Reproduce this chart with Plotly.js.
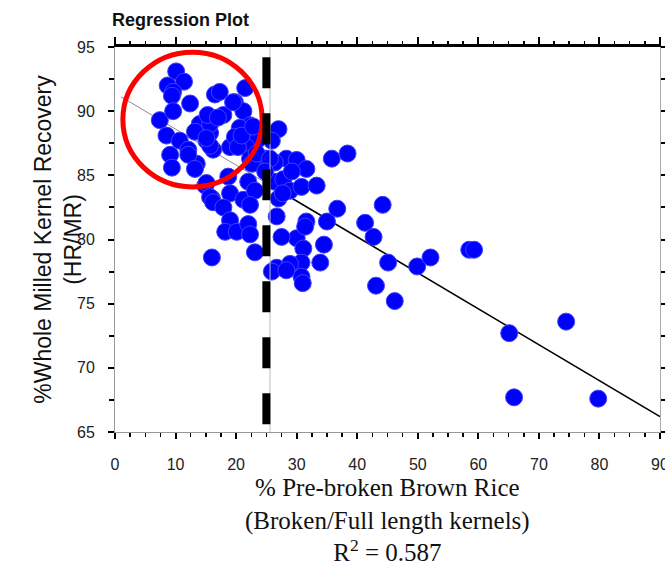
<!DOCTYPE html>
<html><head><meta charset="utf-8">
<script src="https://cdn.plot.ly/plotly-3.0.1.min.js"></script>
<style>html,body{margin:0;padding:0;background:#fff}</style>
</head><body><div id="chart" style="width:665px;height:564px"></div>
<script>
// % Pre-broken brown rice (x) and % whole milled kernel recovery (y)
const xVals = [10.1,11.4,8.7,9.6,9.4,7.4,8.5,9.1,9.4,10.7,12.1,13.5,12.4,9.6,14.0,15.7,16.5,17.3,19.8,21.5,
  21.2,22.3,20.6,17.9,15.7,15.1,16.2,19.0,19.8,23.4,25.0,27.0,28.3,21.7,12.1,13.2,14.9,16.0,13.2,15.7,
  20.3,15.1,18.7,22.0,19.0,15.7,21.2,26.4,26.4,27.0,20.9,15.1,22.3,22.6,23.4,30.0,31.6,35.8,38.4,16.2,
  23.1,22.3,17.9,19.0,18.2,20.1,22.0,23.1,16.0,26.7,27.8,28.9,30.8,33.3,31.6,35.0,36.7,41.3,42.7,30.0,
  31.1,34.5,33.9,30.8,26.7,28.9,30.8,31.0,44.2,31.4,22.3,27.5,25.9,28.3,27.7,45.1,49.9,52.1,58.5,59.3,
  43.1,46.2,65.1,74.5,65.9,79.8,25.9,25.6,24.8,29.2,15.3,17.0,22.8,19.5];
const yVals = [93.1,92.3,92.0,91.5,91.2,89.3,88.1,86.6,85.6,87.7,87.0,85.9,90.6,90.0,89.0,88.3,91.3,91.5,90.7,91.8,
  90.0,88.9,88.7,89.7,89.0,87.7,87.0,87.2,88.0,87.7,86.3,88.6,86.3,87.2,86.6,85.5,84.2,83.2,88.4,87.3,
  87.2,84.4,84.9,84.5,83.6,83.3,83.1,86.0,84.5,83.2,88.1,87.9,86.3,85.9,86.7,86.2,85.5,86.3,86.7,82.9,
  83.8,82.7,82.5,81.5,80.6,80.6,81.2,79.0,78.6,81.8,84.7,83.8,84.1,84.2,81.4,81.4,82.4,81.3,80.2,80.1,
  79.3,79.6,78.2,78.2,77.8,78.1,77.1,76.6,82.7,81.0,80.4,80.2,77.5,77.6,83.6,78.2,77.9,78.6,79.2,79.2,
  76.4,75.2,72.7,73.6,67.7,67.6,87.7,86.3,85.3,85.3,89.7,89.5,88.8,90.7];

// fitted regression line (R^2 = 0.587)
const fitIntercept = 91.4, fitSlope = -0.28;
const fitXLight = [1, 27];
const fitXDark = [27, 90];
const cutoffX = 25;
const xTickVals = [0,10,20,30,40,50,60,70,80,90];
const yTickVals = [65,70,75,80,85,90,95];

const fy = xs => xs.map(v => fitIntercept + fitSlope * v);

const traces = [
  {x: fitXLight, y: fy(fitXLight), mode: 'lines', line: {color: '#8a8a8a', width: 1}, hoverinfo: 'skip', showlegend: false},
  {x: fitXDark, y: fy(fitXDark), mode: 'lines', line: {color: '#000', width: 1.6}, hoverinfo: 'skip', showlegend: false},
  {x: xVals, y: yVals, mode: 'markers', type: 'scatter',
   marker: {size: 17, color: '#0000ff', line: {color: '#4040ff', width: 1}}, showlegend: false},
  {x: [xTickVals[0]], y: [yTickVals[0]], xaxis: 'x2', yaxis: 'y2', mode: 'markers',
   marker: {opacity: 0}, hoverinfo: 'skip', showlegend: false}
];

const tickFont = {family: 'Liberation Sans, Arial, sans-serif', size: 16, color: '#222'};

const layout = {
  width: 665, height: 564,
  margin: {l: 115, r: 5, t: 47, b: 132},
  paper_bgcolor: '#fff', plot_bgcolor: '#fff',
  showlegend: false,
  xaxis: {range: [0, 90], tickvals: xTickVals, showline: true, linecolor: '#9a9a9a', linewidth: 1,
    ticks: 'outside', ticklen: 6, tickwidth: 2, tickcolor: '#000',
    minor: {dtick: 2.5, tick0: 0, ticks: 'outside', ticklen: 4, tickwidth: 1.5, tickcolor: '#000'},
    showgrid: false, zeroline: false, tickfont: tickFont, ticklabelstandoff: 12, ticklabeloverflow: 'allow'},
  xaxis2: {range: [0, 90], overlaying: 'x', side: 'top', showline: true, linecolor: '#000', linewidth: 3,
    ticks: 'outside', ticklen: 7, tickwidth: 2, tickcolor: '#000', tickvals: xTickVals,
    minor: {dtick: 2.5, tick0: 0, ticks: 'outside', ticklen: 3, tickwidth: 1.5, tickcolor: '#000'},
    showticklabels: false, showgrid: false, zeroline: false},
  yaxis: {range: [65, 95], tickvals: yTickVals, showline: true, linecolor: '#9a9a9a', linewidth: 1,
    ticks: 'outside', ticklen: 6, tickwidth: 2, tickcolor: '#000',
    minor: {dtick: 2.5, tick0: 65, ticks: 'outside', ticklen: 5, tickwidth: 2, tickcolor: '#000'},
    showgrid: false, zeroline: false, tickfont: tickFont, ticklabelstandoff: 10},
  yaxis2: {range: [65, 95], overlaying: 'y', side: 'right', showline: true, linecolor: '#aaa', linewidth: 1,
    ticks: 'outside', ticklen: 5, tickwidth: 2, tickcolor: '#000', tickvals: yTickVals,
    minor: {dtick: 2.5, tick0: 65, ticks: 'outside', ticklen: 5, tickwidth: 2, tickcolor: '#000'},
    showticklabels: false, showgrid: false, zeroline: false},
  shapes: [
    {type: 'circle', xref: 'x', yref: 'y', x0: 1.3, x1: 24.3, y0: 84.1, y1: 94.6,
     line: {color: '#ff0000', width: 5}, layer: 'above'},
    {type: 'line', xref: 'x', yref: 'paper', x0: cutoffX + 0.6, x1: cutoffX + 0.6, y0: 0, y1: 1,
     line: {color: '#bbbbbb', width: 1}, layer: 'above'},
    {type: 'line', xref: 'x', yref: 'y', x0: cutoffX, x1: cutoffX, y0: 94.2, y1: 65.6,
     line: {color: '#000', width: 8, dash: '31px,25px'}, layer: 'above'}
  ],
  annotations: [
    {text: '<b>Regression Plot</b>', xref: 'paper', yref: 'paper', x: -0.01, y: 1.07,
     xanchor: 'left', yanchor: 'middle', showarrow: false,
     font: {family: 'Liberation Sans, Arial, sans-serif', size: 18, color: '#111'}},
    {text: '%Whole Milled Kernel Recovery<br>(HR/MR)', xref: 'paper', yref: 'paper', x: -0.106, y: 0.5,
     xanchor: 'center', yanchor: 'middle', textangle: -90, showarrow: false,
     font: {family: 'Liberation Sans, Arial, sans-serif', size: 23, color: '#111'}},
    {text: '% Pre-broken Brown Rice<br>(Broken/Full length kernels)<br>R<sup>2</sup> = 0.587', xref: 'paper', yref: 'paper',
     x: 0.5, y: -0.229, xanchor: 'center', yanchor: 'middle', showarrow: false,
     font: {family: 'Liberation Serif, Times New Roman, serif', size: 25, color: '#111'}}
  ]
};

Plotly.newPlot('chart', traces, layout, {displayModeBar: false, staticPlot: true});
</script></body></html>
